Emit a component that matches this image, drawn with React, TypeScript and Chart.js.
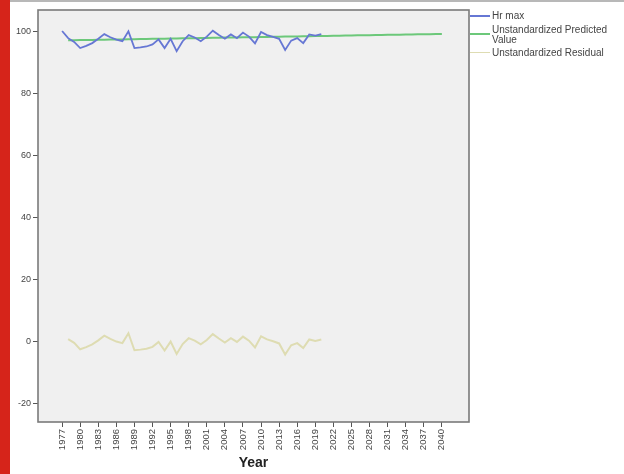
import React, { useEffect, useRef } from "react";
import { Chart, registerables } from "chart.js";
Chart.register(...registerables);

const HR_START = 1977;
const HR_MAX = [
  100.3, 98.0, 96.8, 94.8, 95.5, 96.4, 97.8, 99.3, 98.3, 97.5,
  97.0, 100.2, 94.8, 95.0, 95.3, 96.0, 97.6, 94.8, 97.8, 93.8,
  97.0, 99.0, 98.2, 97.0, 98.5, 100.4, 99.0, 97.8, 99.2, 98.0,
  99.8, 98.5, 96.3, 100.0, 99.0, 98.4, 97.8, 94.2, 97.2, 98.0,
  96.4, 99.2, 98.8, 99.3,
];

const PRED_START = 1978;
const PREDICTED = [
  97.30, 97.33, 97.37, 97.40, 97.43, 97.47, 97.50, 97.53, 97.57, 97.60,
  97.63, 97.67, 97.70, 97.73, 97.77, 97.80, 97.83, 97.87, 97.90, 97.93,
  97.97, 98.00, 98.03, 98.07, 98.10, 98.13, 98.17, 98.20, 98.23, 98.27,
  98.30, 98.33, 98.37, 98.40, 98.43, 98.47, 98.50, 98.53, 98.57, 98.60,
  98.63, 98.67, 98.70, 98.73, 98.77, 98.80, 98.83, 98.87, 98.90, 98.93,
  98.97, 99.00, 99.03, 99.07, 99.10, 99.13, 99.17, 99.20, 99.23, 99.27,
  99.30, 99.33, 99.37,
];

const RESID_START = 1978;
const RESIDUAL = [
  0.7, -0.5, -2.6, -1.9, -1.0, 0.3, 1.8, 0.8, -0.1, -0.6,
  2.6, -2.9, -2.7, -2.4, -1.8, -0.2, -3.0, -0.1, -4.1, -0.9,
  1.0, 0.2, -1.0, 0.4, 2.3, 0.9, -0.4, 1.0, -0.2, 1.5,
  0.2, -2.0, 1.6, 0.6, 0.0, -0.7, -4.3, -1.3, -0.6, -2.2,
  0.6, 0.1, 0.6,
];

const X_TICKS = [
  1977, 1980, 1983, 1986, 1989, 1992, 1995, 1998, 2001, 2004, 2007,
  2010, 2013, 2016, 2019, 2022, 2025, 2028, 2031, 2034, 2037, 2040,
];
const Y_TICKS = [-20, 0, 20, 40, 60, 80, 100];

const SERIES_NAMES = ["Hr max", "Unstandardized Predicted Value", "Unstandardized Residual"];
const COLORS = ["#6677d4", "#6cc87a", "#dedcb2"];

const toPoints = (start: number, vals: number[]) =>
  vals.map((v, i) => ({ x: start + i, y: v }));

const FONT = "'Liberation Sans', Arial, sans-serif";

const framePlugin = {
  id: "frame",
  beforeDraw(chart: any) {
    const { ctx, chartArea } = chart;
    const { left, top, right, bottom } = chartArea;
    ctx.save();
    ctx.fillStyle = "#f0f0f0";
    ctx.fillRect(left, top, right - left, bottom - top);
    ctx.restore();
  },
  afterDraw(chart: any) {
    const { ctx, chartArea } = chart;
    const { left, top, right, bottom } = chartArea;
    ctx.save();
    ctx.strokeStyle = "#7a7a7a";
    ctx.lineWidth = 1.6;
    ctx.strokeRect(left, top, right - left, bottom - top);
    ctx.restore();
  },
};

export default function App() {
  const ref = useRef<HTMLCanvasElement | null>(null);
  useEffect(() => {
    if (!ref.current) return;
    const chart = new Chart(ref.current, {
      type: "line",
      data: {
        datasets: [
          { label: SERIES_NAMES[0], data: toPoints(HR_START, HR_MAX), borderColor: COLORS[0], borderWidth: 1.8, pointRadius: 0, tension: 0 },
          { label: SERIES_NAMES[1], data: toPoints(PRED_START, PREDICTED), borderColor: COLORS[1], borderWidth: 2, pointRadius: 0, tension: 0 },
          { label: SERIES_NAMES[2], data: toPoints(RESID_START, RESIDUAL), borderColor: COLORS[2], borderWidth: 2, pointRadius: 0, tension: 0 },
        ],
      },
      options: {
        responsive: false,
        animation: false,
        layout: { padding: { left: 0, top: 10, right: 155, bottom: 0 } },
        plugins: { legend: { display: false }, tooltip: { enabled: false } },
        scales: {
          x: {
            type: "linear",
            min: 1973,
            max: 2044.5,
            afterBuildTicks: (s: any) => { s.ticks = X_TICKS.map((v) => ({ value: v })); },
            afterFit: (s: any) => { s.height = 52; },
            ticks: {
              autoSkip: false,
              minRotation: 90,
              maxRotation: 90,
              padding: 2,
              color: "#444",
              font: { size: 9.5, family: FONT },
              callback: (v: any) => String(v),
            },
            grid: { drawOnChartArea: false, drawTicks: true, tickLength: 5, color: "#555" },
            border: { display: false },
            title: {
              display: true,
              text: "Year",
              color: "#222",
              font: { size: 14, weight: "bold", family: FONT },
              padding: { top: 0, bottom: 2 },
            },
          },
          y: {
            type: "linear",
            min: -26.1,
            max: 107.1,
            afterBuildTicks: (s: any) => { s.ticks = Y_TICKS.map((v) => ({ value: v })); },
            afterFit: (s: any) => { s.width = 38; },
            ticks: { padding: 2, color: "#444", font: { size: 9, family: FONT } },
            grid: { drawOnChartArea: false, drawTicks: true, tickLength: 5, color: "#555" },
            border: { display: false },
          },
        },
      },
      plugins: [framePlugin],
    });
    return () => chart.destroy();
  }, []);

  const legendLine = (top: number, color: string) => (
    <div style={{ position: "absolute", left: 470, top, width: 20, height: 1.6, background: color }} />
  );
  const legendText = (top: number, text: string) => (
    <div style={{ position: "absolute", left: 492, top, font: `10px ${FONT}`, color: "#444", whiteSpace: "nowrap", lineHeight: "10.5px" }}>{text}</div>
  );

  return (
    <div style={{ position: "absolute", left: 0, top: 0, width: 624, height: 474, background: "#fff", overflow: "hidden" }}>
      <canvas ref={ref} width={624} height={474} style={{ position: "absolute", left: 0, top: 0 }} />
      <div style={{ position: "absolute", left: 0, top: 0, width: 10, height: 474, background: "#d6241a" }} />
      <div style={{ position: "absolute", left: 10, top: 0, width: 614, height: 2, background: "#b8b8b8" }} />
      {legendLine(15, COLORS[0])}
      {legendText(11, "Hr max")}
      {legendLine(33, COLORS[1])}
      {legendText(24.5, "Unstandardized Predicted")}
      {legendText(35, "Value")}
      {legendLine(51.5, COLORS[2])}
      {legendText(47.5, "Unstandardized Residual")}
    </div>
  );
}
